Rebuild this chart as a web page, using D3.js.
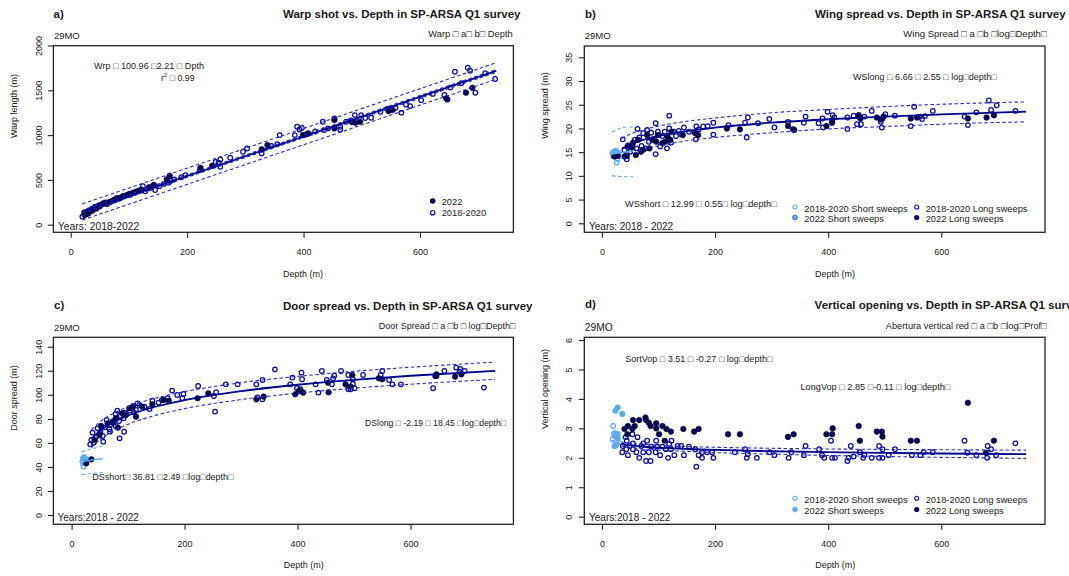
<!DOCTYPE html>
<html><head><meta charset="utf-8">
<script src="https://cdn.jsdelivr.net/npm/d3@7"></script>
<style>
body{margin:0;background:#fff}
text{font-family:"Liberation Sans",Arial,sans-serif;fill:#1a1a1a}
</style></head>
<body><svg id="c" width="1069" height="576"></svg>
<script>
// ---------------- DATA ----------------
const xTicks = [0, 200, 400, 600];
const warpTicks = [0, 500, 1000, 1500, 2000];
const wingTicks = [0, 5, 10, 15, 20, 25, 30, 35];
const doorTicks = [0, 20, 40, 60, 80, 100, 120, 140];
const vopTicks = [0, 1, 2, 3, 4, 5, 6];

// a) Warp length vs depth  [depth, warp]
const warpOld = [[20,90],[23,134],[26,120],[28,145],[31,160],[33,150],[36,175],[39,185],[42,200],[45,195],[48,215],[51,222],[54,228],[57,235],[60,248],[63,240],[66,252],[69,258],[72,268],[75,280],[79,300],[83,290],[87,305],[90,320],[94,325],[98,330],[101,345],[105,350],[109,355],[113,372],[117,380],[121,395],[124,431],[128,372],[133,405],[138,412],[142,440],[145,387],[152,430],[160,455],[168,469],[172,490],[178,505],[190,530],[197,554],[222,610],[249,700],[254,692],[257,729],[257,647],[274,747],[296,814],[303,851],[328,796],[345,880],[355,900],[359,1000],[385,1000],[389,1093],[393,1063],[397,1080],[420,1040],[433,1149],[435,1056],[442,1075],[453,1186],[463,1093],[463,1063],[473,1149],[481,1165],[488,1223],[499,1223],[506,1190],[516,1194],[532,1260],[545,1295],[558,1305],[568,1250],[576,1340],[583,1324],[602,1390],[622,1460],[642,1447],[652,1530],[660,1707],[671,1580],[682,1752],[686,1718],[695,1473],[712,1690],[729,1626]];
const warp2022 = [[24,108],[27,118],[30,125],[35,150],[38,164],[44,180],[50,205],[56,238],[62,232],[68,255],[74,272],[78,282],[83,294],[86,302],[92,318],[97,331],[103,338],[108,358],[113,366],[118,378],[122,387],[135,420],[143,443],[165,506],[170,547],[223,636],[243,658],[328,841],[338,889],[399,1000],[405,1010],[408,1019],[453,1168],[453,1075],[483,1145],[489,1138],[497,1149],[546,1268],[553,1280],[645,1410],[647,1398],[679,1473],[690,1529]];
const warpFit = [[20,145],[731,1716]];
const warpPredUp = [[20,232],[731,1808]];
const warpPredLo = [[20,52],[731,1624]];
const warpConfUp = [[20,158],[731,1732]];
const warpConfLo = [[20,132],[731,1700]];

// b) Wing spread vs depth
const wingOld = [[37,17.7],[40,15.4],[44,13.5],[46,16.1],[50,15.1],[54,16.7],[58,17.6],[61,15.8],[63,19.9],[66,18.1],[70,16.3],[73,19.0],[77,15.8],[80,19.7],[83,17.2],[87,19.1],[92,17.7],[95,14.6],[95,21.1],[99,19.3],[103,16.2],[107,18.4],[111,19.3],[115,15.8],[119,22.7],[119,20.0],[122,17.0],[127,19.3],[131,18.4],[136,19.5],[140,18.8],[145,20.2],[154,19.3],[164,19.1],[166,17.7],[167,20.4],[171,19.8],[179,20.4],[187,20.5],[197,21.2],[197,18.7],[224,20.7],[253,21.2],[256,18.1],[258,22.3],[276,21.1],[296,22.0],[305,20.2],[329,21.4],[357,21.2],[360,22.5],[383,21.1],[390,22.1],[391,20.2],[399,23.5],[407,21.6],[408,22.8],[411,22.3],[434,22.3],[434,19.9],[445,22.7],[451,20.9],[458,20.9],[464,22.5],[477,23.7],[493,21.4],[495,20.2],[496,22.1],[501,23.0],[518,22.7],[546,20.5],[552,24.6],[563,22.5],[566,22.0],[571,22.6],[585,23.7],[641,22.5],[647,20.7],[662,23.4],[684,25.9],[688,23.9],[698,24.9],[731,23.7]];
const wing2022 = [[22,14.1],[28,14.2],[40,14.1],[44,14.2],[46,16.4],[54,16.0],[55,17.0],[60,14.4],[64,17.6],[69,15.1],[73,15.5],[80,18.6],[84,15.8],[89,17.6],[96,17.2],[99,18.6],[107,16.9],[112,17.2],[116,18.3],[121,17.6],[123,19.3],[143,18.6],[166,19.0],[170,18.6],[221,20.0],[244,19.8],[329,20.5],[338,19.8],[340,19.7],[397,20.5],[407,21.2],[454,22.8],[457,22.1],[486,22.3],[493,21.9],[498,22.5],[546,22.1],[557,22.3],[647,22.1],[680,22.3],[693,22.8]];
const wingShortOld = [[20,14.2],[22,14.6],[26,12.8],[28,13.6],[30,14.9]];
const wingShort2022 = [[19,14.8],[21,15.1],[22,14.5],[24,15.3],[25,14.7],[23,15.0],[27,14.9]];
const wingFit = [[35,15.73],[50,16.64],[75,17.67],[100,18.40],[150,19.44],[200,20.17],[300,21.21],[400,21.94],[500,22.51],[600,22.97],[750,23.54]];
const wingUp = [[35,17.9],[50,18.8],[75,19.8],[100,20.5],[150,21.5],[200,22.2],[300,23.3],[400,24.0],[500,24.6],[600,25.1],[750,25.6]];
const wingLo = [[35,13.6],[50,14.5],[75,15.6],[100,16.3],[150,17.4],[200,18.1],[300,19.1],[400,19.9],[500,20.4],[600,20.9],[750,21.4]];
const wingShortFit = [[18,14.58],[25,14.76],[35,14.95],[45,15.08],[55,15.19]];
const wingShortUp = [[18,19.2],[25,19.7],[35,20.1],[45,20.3],[55,20.3]];
const wingShortLo = [[18,10.0],[30,9.9],[55,9.8]];

// c) Door spread vs depth
const doorOld = [[33,58.8],[35,62.4],[37,68.5],[39,60.2],[44,65.2],[46,72.1],[50,67.4],[51,69.3],[55,65.7],[56,61.0],[59,72.9],[62,79.1],[67,71.3],[68,74.9],[68,69.3],[74,76.8],[78,74.1],[78,84.0],[81,86.8],[84,78.2],[85,63.8],[87,82.4],[92,80.4],[93,69.3],[94,85.2],[103,86.8],[108,89.3],[111,85.2],[114,87.4],[117,92.9],[120,91.5],[129,90.1],[138,88.2],[143,95.1],[154,93.5],[160,95.7],[170,97.1],[178,103.5],[187,99.8],[196,97.1],[198,100.7],[224,107.3],[252,99.0],[254,86.0],[256,102.1],[273,108.7],[294,108.7],[327,108.7],[329,97.9],[338,96.2],[338,112.3],[360,121.2],[387,108.7],[391,114.3],[399,105.4],[405,104.6],[407,118.4],[408,112.9],[432,108.7],[437,101.8],[443,119.8],[452,112.3],[461,108.7],[463,113.7],[465,115.9],[477,119.8],[490,116.5],[490,104.6],[494,104.6],[498,112.9],[498,109.0],[501,105.4],[516,116.5],[547,116.5],[550,119.8],[562,112.3],[568,108.7],[583,108.7],[640,105.4],[646,115.7],[660,119.8],[681,122.6],[687,119.3],[688,121.5],[696,119.8],[730,106.0]];
const door2022 = [[26,43.0],[35,46.3],[41,62.4],[49,66.6],[52,74.1],[64,76.3],[73,77.7],[78,80.4],[82,72.7],[90,84.6],[96,83.2],[102,88.8],[109,90.7],[114,81.8],[125,90.1],[143,92.1],[163,95.7],[172,95.1],[223,97.1],[242,101.2],[327,96.2],[340,98.5],[396,100.4],[402,103.2],[405,103.2],[410,101.8],[454,110.1],[455,102.1],[485,108.7],[494,106.8],[497,116.5],[544,113.7],[550,112.9],[644,115.7],[646,117.0],[679,115.1],[690,117.0]];
const doorShortOld = [[19,44.5],[20,43.0],[21,40.2],[23,47.2]];
const doorShort2022 = [[20,47.2],[22,48.0],[23,45.2],[24,47.2],[25,46.0]];
const doorFit = [[35,63.40],[50,69.99],[75,77.46],[100,82.77],[150,90.26],[200,95.56],[300,103.05],[400,108.34],[500,112.48],[600,115.84],[750,119.95]];
const doorUp = [[35,70.9],[50,77.4],[75,84.8],[100,90.0],[150,97.4],[200,102.6],[300,110.1],[400,115.3],[500,119.5],[600,122.9],[750,127.2]];
const doorLo = [[35,56.0],[50,62.6],[75,70.1],[100,75.5],[150,83.1],[200,88.5],[300,96.0],[400,101.4],[500,105.5],[600,108.8],[750,112.8]];
const doorShortFit = [[18,44.01],[25,44.83],[35,45.66],[45,46.29],[55,46.79]];
const doorShortUp = [[18,52.5],[35,55.0],[55,57.5]];
const doorShortLo = [[18,33.5],[35,34.5],[55,35.3]];

// d) Vertical opening vs depth
const vopOld = [[36,2.19],[37,2.40],[42,2.70],[43,2.29],[44,2.58],[46,2.09],[49,2.40],[54,2.80],[55,2.29],[55,2.49],[61,2.19],[63,2.70],[66,2.00],[70,2.40],[73,2.19],[73,2.49],[78,1.89],[80,2.58],[83,2.19],[86,1.89],[87,2.38],[95,2.19],[96,2.58],[98,2.38],[103,2.09],[107,2.38],[113,2.29],[117,2.00],[119,2.47],[123,2.58],[122,2.29],[128,2.09],[134,2.40],[140,2.40],[145,2.09],[154,2.38],[165,2.29],[167,1.70],[171,2.09],[177,2.19],[177,2.00],[186,2.19],[195,2.19],[197,2.00],[235,2.19],[253,2.29],[256,2.00],[258,2.12],[274,2.00],[296,2.19],[305,2.09],[330,2.00],[335,2.19],[357,2.09],[360,2.40],[384,2.29],[389,2.09],[393,2.00],[405,2.58],[407,2.00],[412,2.00],[434,1.89],[436,2.00],[440,2.40],[445,2.04],[456,2.19],[462,2.00],[464,2.09],[477,2.00],[490,2.40],[490,2.00],[496,2.29],[496,2.00],[507,2.09],[518,2.29],[548,2.09],[563,2.09],[569,2.19],[585,2.19],[641,2.58],[646,2.17],[662,2.09],[681,2.00],[682,2.40],[688,2.29],[697,2.09],[731,2.49]];
const vop2022 = [[40,2.98],[45,2.80],[46,3.08],[54,2.98],[55,3.28],[58,3.08],[66,3.28],[77,3.37],[78,3.28],[83,3.19],[86,3.08],[96,3.17],[96,3.00],[101,2.80],[107,3.08],[111,2.58],[114,2.98],[122,2.89],[144,2.98],[163,2.89],[171,2.98],[223,2.80],[244,2.80],[329,2.71],[339,2.80],[397,2.80],[407,2.80],[408,3.00],[454,3.08],[456,2.58],[486,2.89],[495,2.89],[496,2.72],[546,2.58],[557,2.58],[647,3.87],[679,2.17],[693,2.58]];
const vopShortOld = [[19,2.62],[20,3.08],[22,2.78],[22,2.40],[25,2.55]];
const vopShort2022 = [[22,2.83],[24,3.60],[24,2.40],[25,2.72],[26,2.45],[28,3.71],[28,2.81],[28,2.66],[36,3.49]];
const vopFit = [[35,2.459],[50,2.420],[75,2.375],[100,2.343],[150,2.299],[200,2.267],[300,2.223],[400,2.191],[500,2.166],[600,2.146],[750,2.122]];
const vopUp = [[35,2.53],[50,2.49],[75,2.455],[100,2.423],[150,2.38],[200,2.357],[300,2.323],[400,2.30],[500,2.285],[600,2.275],[750,2.26]];
const vopLo = [[35,2.39],[50,2.35],[75,2.295],[100,2.263],[150,2.22],[200,2.177],[300,2.123],[400,2.08],[500,2.045],[600,2.015],[750,1.98]];
const vopShortFit = [[18,2.73],[22,2.68],[26,2.63],[30,2.59],[36,2.54]];
const vopShortUp = [[18,2.85],[26,2.72],[36,2.62]];
const vopShortLo = [[18,2.60],[26,2.53],[36,2.46]];

// ---------------- STYLE ----------------
const C = {open:"#0b0ba0", fill:"#07074d", fit:"#00008b", band:"#2b2bc4", light:"#5cacee", lightDark:"#2f63c9", txt:"#1a1a1a"};
const FONT = '"Liberation Sans",Arial,sans-serif';

const svg = d3.select("#c");

function panel(p) {
  const g = svg.append("g");
  const x = d3.scaleLinear().domain([0, 600]).range(p.xr);
  const y = d3.scaleLinear().domain(p.yd).range(p.yr);
  const [bx0, by0, bx1, by1] = p.box;
  const cid = "clip" + p.key;
  svg.append("clipPath").attr("id", cid).append("rect")
    .attr("x", bx0).attr("y", by0).attr("width", bx1 - bx0).attr("height", by1 - by0);
  const plot = g.append("g").attr("clip-path", `url(#${cid})`);
  const line = d3.line().x(d => x(d[0])).y(d => y(d[1])).curve(d3.curveMonotoneX);

  function openPts(data, col) {
    plot.append("g").selectAll("circle").data(data).join("circle")
      .attr("cx", d => x(d[0])).attr("cy", d => y(d[1])).attr("r", 2.3)
      .attr("fill", "none").attr("stroke", col).attr("stroke-width", 1.25);
  }
  function fillPts(data, col, stroke) {
    plot.append("g").selectAll("circle").data(data).join("circle")
      .attr("cx", d => x(d[0])).attr("cy", d => y(d[1])).attr("r", 2.8)
      .attr("fill", col).attr("stroke", stroke || col).attr("stroke-width", 0.6);
  }
  if (p.shortOld) openPts(p.shortOld, C.light);
  if (p.short22) fillPts(p.short22, C.light);
  openPts(p.old, C.open);
  fillPts(p.new22, C.fill);

  function ln(data, col, w, dash) {
    plot.append("path").datum(data).attr("d", line).attr("fill", "none")
      .attr("stroke", col).attr("stroke-width", w).attr("stroke-dasharray", dash || null);
  }
  p.bands.forEach(b => ln(b, C.band, 1.1, "3.5,2.5"));
  if (p.shortBands) p.shortBands.forEach(b => ln(b, C.light, 1.1, "3.5,2.5"));
  if (p.shortFit) ln(p.shortFit, C.light, 1.5);
  ln(p.fit, C.fit, 1.8);

  g.append("rect").attr("x", bx0).attr("y", by0).attr("width", bx1 - bx0).attr("height", by1 - by0)
    .attr("fill", "none").attr("stroke", "#222").attr("stroke-width", 1.3);

  const xa = g.append("g").attr("transform", `translate(0,${by1})`)
    .call(d3.axisBottom(x).tickValues(xTicks).tickSize(5.5).tickPadding(10.5).tickFormat(d3.format("d")));
  xa.select(".domain").remove();
  xa.selectAll("line").attr("stroke", "#222").attr("stroke-width", 1.1);
  xa.selectAll("text").attr("font-size", 9).attr("font-family", FONT).attr("fill", C.txt);

  const ya = g.append("g").attr("transform", `translate(${bx0},0)`)
    .call(d3.axisLeft(y).tickValues(p.yTicks).tickSize(5.5).tickFormat(d3.format("d")));
  ya.select(".domain").remove();
  ya.selectAll("line").attr("stroke", "#222").attr("stroke-width", 1.1);
  ya.selectAll("text").attr("font-size", 9).attr("font-family", FONT).attr("fill", C.txt)
    .attr("transform", "rotate(-90)").attr("x", 0).attr("y", -p.ylabOff).attr("dy", "0.35em")
    .attr("text-anchor", "middle");

  function txt(s, tx, ty, o) {
    o = o || {};
    const t = g.append("text").attr("x", tx).attr("y", ty).attr("dy", "0.35em")
      .attr("font-size", o.size || 9).attr("font-weight", o.bold ? "bold" : null)
      .attr("text-anchor", o.anchor || "start").text(s);
    if (o.len) t.attr("textLength", o.len).attr("lengthAdjust", "spacingAndGlyphs");
    return t;
  }
  txt(p.tag, p.tagX, 13.5 + p.oy, {bold: true, size: 11.5});
  txt(p.title, p.titleX, 14.3 + p.oy, {bold: true, size: 11.5});
  txt("29MO", bx0 + 0.5, p.moY, {size: p.moSize || 9.5});
  txt(p.formula, p.formulaX - p.formulaLen, p.formulaY, {size: 9, len: p.formulaLen});
  p.eqs.forEach(e => txt(e[0], e[1], e[2], {size: 8.8, len: e[3]}));
  txt(p.years, p.yearsX, p.yearsY, {size: p.yearsSize || 10});
  txt("Depth (m)", p.xlabX, p.xlabY, {size: 9, anchor: "middle"});
  g.append("text").attr("transform", `translate(${p.ylabX},${p.ylabY}) rotate(-90)`)
    .attr("dy", "0.35em").attr("text-anchor", "middle").attr("font-size", 9).text(p.ylab);

  return {g, txt};
}

// ---------------- PANELS ----------------
const pa = panel({
  key: "a", oy: 0, box: [53.4, 45.7, 513.4, 232.3], xr: [70.7, 420], yd: [0, 2000], yr: [224.7, 45.5],
  yTicks: warpTicks, ylabOff: 15, old: warpOld, new22: warp2022, fit: warpFit,
  bands: [warpPredUp, warpPredLo, warpConfUp, warpConfLo],
  tag: "a)", tagX: 53.5, title: "Warp shot vs. Depth in SP-ARSA Q1 survey", titleX: 283,
  moY: 36, formula: "Warp □ a□ b□ Depth", formulaX: 512.7, formulaLen: 84.4, formulaY: 33.5,
  eqs: [["Wrp □ 100.96 □2.21 □ Dpth", 94, 66, 110]],
  years: "Years: 2018-2022", yearsX: 57.7, yearsY: 226, yearsSize: 10.4,
  xlabX: 303, xlabY: 273.5, ylab: "Warp length (m)", ylabX: 13.8, ylabY: 106
});
const r2 = pa.g.append("text").attr("x", 161).attr("y", 77.5).attr("dy", "0.35em").attr("font-size", 8.8);
r2.append("tspan").text("r");
r2.append("tspan").attr("font-size", 6).attr("dy", "-3.5").text("2");
r2.append("tspan").attr("dy", "3.5").text(" □ 0.99");
const la = pa.g.append("g");
la.append("circle").attr("cx", 432.7).attr("cy", 201).attr("r", 2.8).attr("fill", C.fill);
la.append("circle").attr("cx", 432.7).attr("cy", 212.7).attr("r", 2.2).attr("fill", "none").attr("stroke", C.open).attr("stroke-width", 1.2);
pa.txt("2022", 441.7, 201.5, {size: 9.3});
pa.txt("2018-2020", 441.7, 213, {size: 9.3});

function legend4(pp, y1, y2, darkShort) {
  const lg = pp.g.append("g");
  lg.append("circle").attr("cx", 795).attr("cy", y1 - 1.5).attr("r", 2).attr("fill", "none").attr("stroke", C.light).attr("stroke-width", 1.1);
  lg.append("circle").attr("cx", 795).attr("cy", y2 - 1.5).attr("r", 2.4).attr("fill", C.light).attr("stroke", darkShort ? C.lightDark : C.light).attr("stroke-width", 0.9);
  lg.append("circle").attr("cx", 916.7).attr("cy", y1 - 1.5).attr("r", 2).attr("fill", "none").attr("stroke", C.open).attr("stroke-width", 1.1);
  lg.append("circle").attr("cx", 916.7).attr("cy", y2 - 1.5).attr("r", 2.6).attr("fill", C.fill);
  pp.txt("2018-2020 Short sweeps", 804.3, y1, {size: 9.3});
  pp.txt("2022 Short sweeps", 804.3, y2, {size: 9.3});
  pp.txt("2018-2020 Long sweeps", 925.7, y1, {size: 9.3});
  pp.txt("2022 Long sweeps", 925.7, y2, {size: 9.3});
}

const pb = panel({
  key: "b", oy: 0, box: [584.3, 46, 1045, 232.3], xr: [601.9, 941.3], yd: [0, 35], yr: [223.3, 57.3],
  yTicks: wingTicks, ylabOff: 15.5, old: wingOld, new22: wing2022, shortOld: wingShortOld, short22: wingShort2022,
  fit: wingFit, bands: [wingUp, wingLo], shortFit: wingShortFit, shortBands: [wingShortUp, wingShortLo],
  tag: "b)", tagX: 585, title: "Wing spread vs. Depth in SP-ARSA Q1 survey", titleX: 815,
  moY: 36, formula: "Wing Spread □ a □b □log□Depth□", formulaX: 1046.7, formulaLen: 143.4, formulaY: 33.5,
  eqs: [["WSlong □ 6.66 □ 2.55 □ log□depth□", 853, 77, 143.8], ["WSshort □ 12.99 □ 0.55□ log□depth□", 625, 204, 151.7]],
  years: "Years: 2018 - 2022", yearsX: 589, yearsY: 226.5,
  xlabX: 835, xlabY: 274, ylab: "Wing spread (m)", ylabX: 544.4, ylabY: 105.5
});
legend4(pb, 208.5, 219, true);

const pc = panel({
  key: "c", oy: 291.5, box: [53.4, 337.3, 513.4, 524.3], xr: [71.6, 410.5], yd: [0, 140], yr: [515, 346.7],
  yTicks: doorTicks, ylabOff: 15, old: doorOld, new22: door2022, shortOld: doorShortOld, short22: doorShort2022,
  fit: doorFit, bands: [doorUp, doorLo], shortFit: doorShortFit, shortBands: [doorShortUp, doorShortLo],
  tag: "c)", tagX: 54, title: "Door spread vs. Depth in SP-ARSA Q1 survey", titleX: 283,
  moY: 327.7, formula: "Door Spread □ a □b □ log□Depth□", formulaX: 515.5, formulaLen: 136.7, formulaY: 325.7,
  eqs: [["DSlong □ -2.19 □ 18.45 □log□depth□", 365, 423.3, 141], ["DSshort□ 36.81 □2.49 □log□depth□", 92.3, 476.7, 141.2]],
  years: "Years:2018 - 2022", yearsX: 57.5, yearsY: 517.7,
  xlabX: 303.7, xlabY: 565, ylab: "Door spread (m)", ylabX: 13.8, ylabY: 398
});

const pd = panel({
  key: "d", oy: 290.5, box: [584.3, 337.3, 1045, 524.3], xr: [601.9, 941.3], yd: [0, 6], yr: [516.7, 340],
  yTicks: vopTicks, ylabOff: 15.5, old: vopOld, new22: vop2022, shortOld: vopShortOld, short22: vopShort2022,
  fit: vopFit, bands: [vopUp, vopLo], shortFit: vopShortFit, shortBands: [vopShortUp, vopShortLo],
  tag: "d)", tagX: 585, title: "Vertical opening vs. Depth in SP-ARSA Q1 survey", titleX: 814.6,
  moY: 327.3, moSize: 10.3, formula: "Abertura vertical red □ a □b □log□Prof□", formulaX: 1046.7, formulaLen: 160.9, formulaY: 325.7,
  eqs: [["SortVop □ 3.51 □ -0.27 □ log□depth□", 625.2, 359, 147.2], ["LongVop □ 2.85 □-0.11 □ log□depth□", 800.5, 386.7, 149.9]],
  years: "Years:2018 - 2022", yearsX: 589, yearsY: 517.7,
  xlabX: 835.3, xlabY: 565, ylab: "Vertical opening (m)", ylabX: 544.4, ylabY: 389
});
legend4(pd, 499.8, 511, false);
</script></body></html>
